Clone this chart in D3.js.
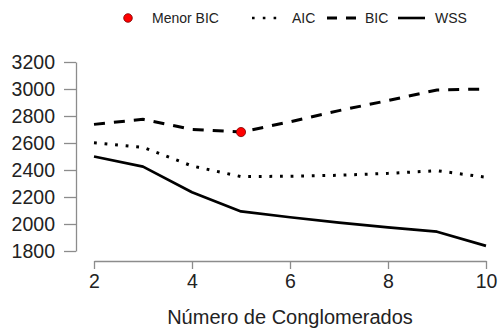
<!DOCTYPE html>
<html>
<head>
<meta charset="utf-8">
<script src="https://cdn.jsdelivr.net/npm/d3@7"></script>
<style>
  html, body { margin: 0; padding: 0; background: #fff; }
  svg { display: block; font-family: "Liberation Sans", Arial, sans-serif; }
</style>
</head>
<body>
<svg id="chart" width="498" height="331"></svg>
<script>
// Number of clusters evaluated
const clusters = [2, 3, 4, 5, 6, 7, 8, 9, 10];
// Criteria per number of clusters
const wss = [2500, 2425, 2235, 2093, 2050, 2010, 1975, 1943, 1838];
const aic = [2602, 2568, 2430, 2351, 2354, 2361, 2375, 2395, 2346];
const bic = [2738, 2775, 2701, 2681, 2757, 2840, 2914, 2993, 3000];
// Axis ticks
const xTicks = [2, 4, 6, 8, 10];
const yTicks = [1800, 2000, 2200, 2400, 2600, 2800, 3000, 3200];

const svg = d3.select("#chart");
const x = d3.scaleLinear().domain([2, 10]).range([94, 486]);
const y = d3.scaleLinear().domain([1800, 3200]).range([251, 62]);

const axisColor = "#8c8c8c";
const textColor = "#222";

// Y axis (ticks pointing outward)
const yAxis = svg.append("g")
  .attr("transform", "translate(76,0)")
  .call(d3.axisLeft(y).tickValues(yTicks).tickSize(12).tickSizeOuter(0).tickPadding(9).tickFormat(d3.format("d")));
yAxis.select(".domain").attr("stroke", axisColor).attr("stroke-width", 1.3);
yAxis.selectAll(".tick line").attr("stroke", axisColor).attr("stroke-width", 1.3);
yAxis.selectAll(".tick text").attr("fill", textColor).style("font-size", "19.5px")
  .style("font-family", "\"Liberation Sans\", Arial, sans-serif");

// X axis
const xAxis = svg.append("g")
  .attr("transform", "translate(0,261)")
  .call(d3.axisBottom(x).tickValues(xTicks).tickSize(8).tickSizeOuter(0).tickPadding(5).tickFormat(d3.format("d")));
xAxis.select(".domain").attr("stroke", axisColor).attr("stroke-width", 1.3);
xAxis.selectAll(".tick line").attr("stroke", axisColor).attr("stroke-width", 1.3);
xAxis.selectAll(".tick text").attr("fill", textColor).style("font-size", "19.5px")
  .style("font-family", "\"Liberation Sans\", Arial, sans-serif");

svg.append("text")
  .attr("x", x(6)).attr("y", 324)
  .attr("text-anchor", "middle")
  .attr("fill", textColor)
  .style("font-size", "20px")
  .text("Número de Conglomerados");

// Series lines
const line = d3.line().x((d, i) => x(clusters[i])).y(d => y(d));

svg.append("path").datum(wss).attr("d", line)
  .attr("fill", "none").attr("stroke", "#000").attr("stroke-width", 2.7)
  .attr("stroke-linejoin", "round");

svg.append("path").datum(aic).attr("d", line)
  .attr("fill", "none").attr("stroke", "#000").attr("stroke-width", 3)
  .attr("stroke-dasharray", "2.8 7.8");

svg.append("path").datum(bic).attr("d", line)
  .attr("fill", "none").attr("stroke", "#000").attr("stroke-width", 3)
  .attr("stroke-dasharray", "11 9");

// Lowest BIC marker
const minIdx = d3.minIndex(bic);
svg.append("circle")
  .attr("cx", x(clusters[minIdx])).attr("cy", y(bic[minIdx]))
  .attr("r", 4.6)
  .attr("fill", "#ff0000").attr("stroke", "#7a0000").attr("stroke-width", 0.8);

// Legend
const legend = svg.append("g").style("font-size", "14px").attr("fill", textColor);
legend.append("circle").attr("cx", 128).attr("cy", 18).attr("r", 4.3)
  .attr("fill", "#ff0000").attr("stroke", "#7a0000").attr("stroke-width", 0.8);
legend.append("text").attr("x", 152).attr("y", 23).text("Menor BIC");

legend.append("line").attr("x1", 252).attr("x2", 279).attr("y1", 18).attr("y2", 18)
  .attr("stroke", "#000").attr("stroke-width", 2.6).attr("stroke-dasharray", "2.6 8.2");
legend.append("text").attr("x", 292).attr("y", 23).text("AIC");

legend.append("line").attr("x1", 327).attr("x2", 356).attr("y1", 18).attr("y2", 18)
  .attr("stroke", "#000").attr("stroke-width", 2.8).attr("stroke-dasharray", "10 9");
legend.append("text").attr("x", 365).attr("y", 23).text("BIC");

legend.append("line").attr("x1", 398).attr("x2", 425).attr("y1", 18).attr("y2", 18)
  .attr("stroke", "#000").attr("stroke-width", 2.6);
legend.append("text").attr("x", 435).attr("y", 23).text("WSS");
</script>
</body>
</html>
